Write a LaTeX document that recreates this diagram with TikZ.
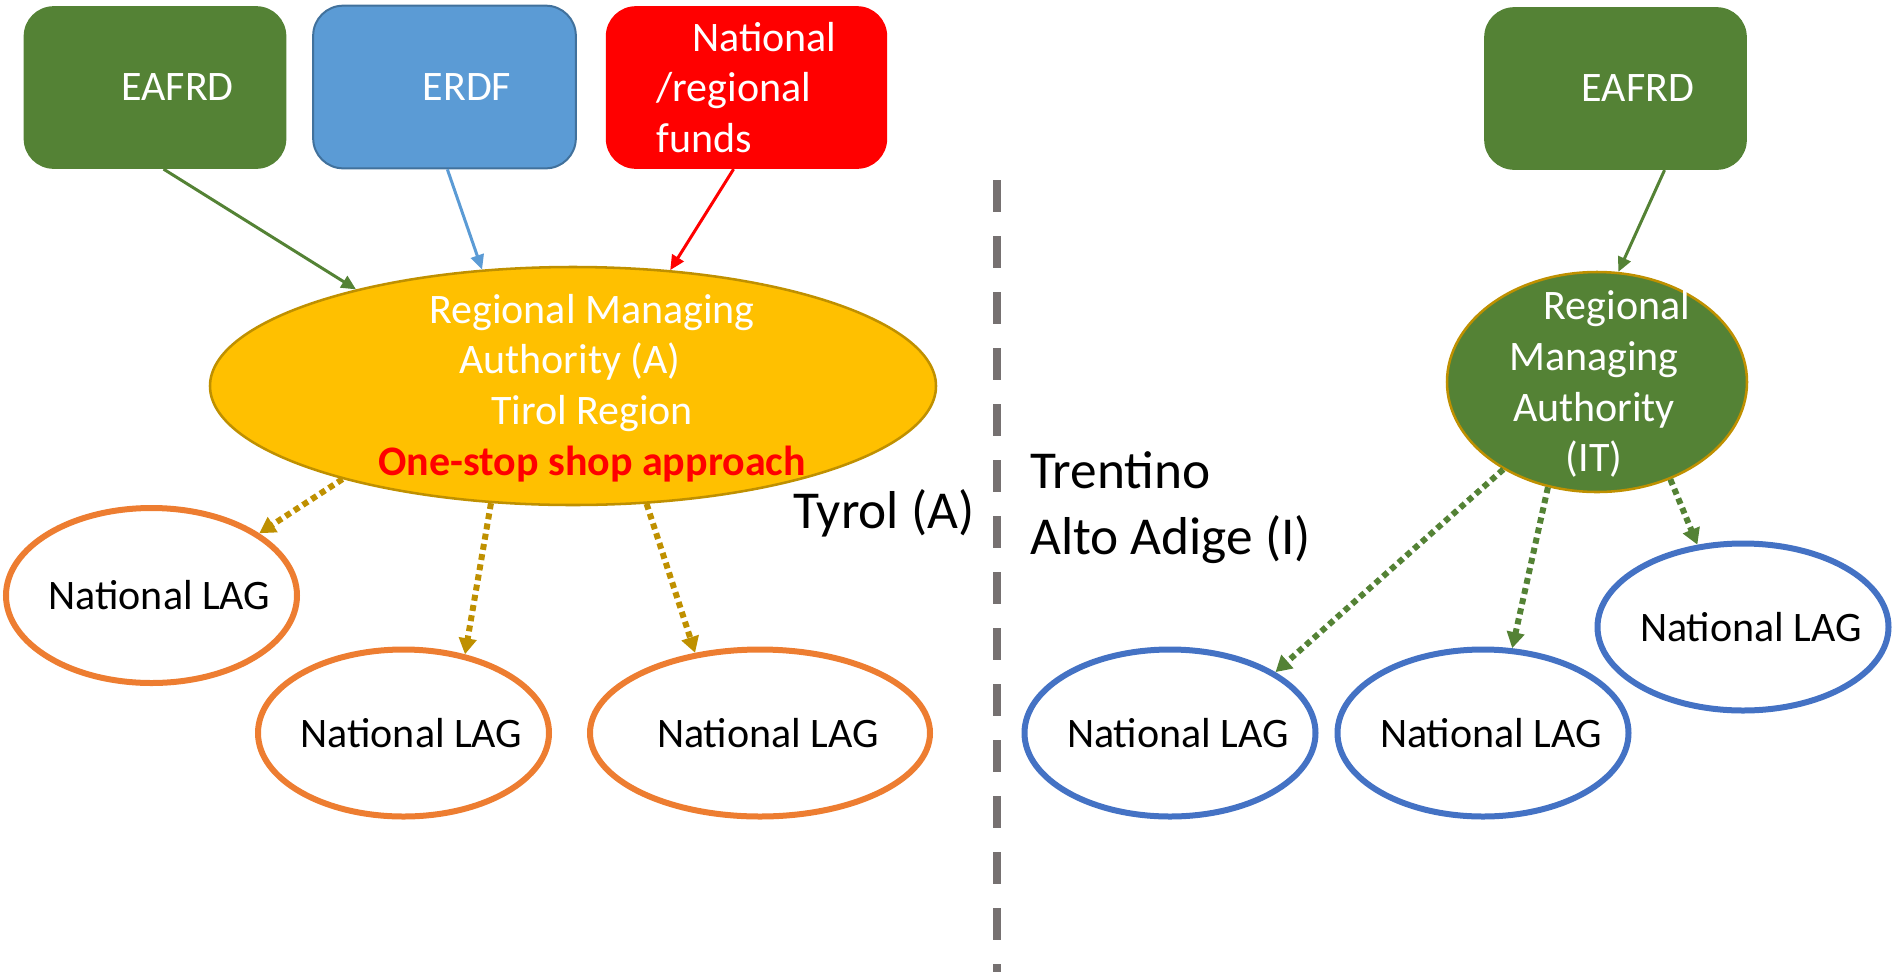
\documentclass[tikz,border=0pt]{standalone}
\usepackage{fontspec}
\setmainfont{Carlito}
\usepackage{xcolor}
\usetikzlibrary{shapes.geometric,arrows.meta}

\definecolor{ogreen}{RGB}{84,130,53}
\definecolor{oblue}{RGB}{91,155,213}
\definecolor{obluedark}{RGB}{65,113,156}
\definecolor{ogold}{RGB}{255,192,0}
\definecolor{ogolddark}{RGB}{191,144,0}
\definecolor{oorange}{RGB}{237,125,49}
\definecolor{olagblue}{RGB}{68,114,196}
\definecolor{ogray}{RGB}{118,113,113}

\begin{document}
\begin{tikzpicture}[x=0.75pt,y=0.75pt,yscale=-1,xscale=1,
  fund/.style={rectangle, rounded corners=22.5pt, minimum width=197pt, minimum height=122pt, text=white, font=\fontsize{31.5}{38}\selectfont},
  mgmt/.style={ellipse, draw=ogolddark, line width=1.9pt, inner sep=0pt},
  mgmttext/.style={text=white, align=center, inner sep=0pt, font=\fontsize{31.5}{38}\selectfont},
  lag/.style={ellipse, draw, line width=4.5pt, inner xsep=-14pt, inner ysep=0pt, minimum width=218.25pt, minimum height=125.25pt, font=\fontsize{31.5}{38}\selectfont},
  flow/.style={line width=2.25pt, -{Triangle[length=11pt,width=10pt]}},
  share/.style={line width=4.5pt, dash pattern=on 4.5pt off 3.25pt, -{Triangle[length=12pt,width=13pt]}},
  region/.style={anchor=west, align=left, inner sep=0pt, font=\fontsize{40}{49.5}\selectfont}
]
\useasboundingbox (0,0) rectangle (1893,972);

%funds
\node[fund, fill=ogreen] (eafrdA) at (155,87.5) {\hspace*{33.75pt}EAFRD};
\node[fund, fill=oblue, draw=obluedark, line width=1.5pt] (erdf) at (444.5,87) {\hspace*{33.75pt}ERDF};
\node[fund, fill=red, minimum width=211pt, align=left] (natfunds) at (746.5,87.5) {\hspace*{27pt}National\\/regional\\funds};
\node[fund, fill=ogreen] (eafrdB) at (1615.5,88.5) {\hspace*{33.75pt}EAFRD};

%managing authorities
\node[mgmt, fill=ogold, minimum width=544.5pt, minimum height=178.5pt] (rmaA) at (573,386) {};
\node[mgmttext] (rmaAtext) at (592,388) {Regional Managing\\Authority (A)\hspace*{33pt}\mbox{}\\Tirol Region\\\textcolor{red}{\bfseries One-stop shop approach}};
\node[mgmt, fill=ogreen, minimum width=225pt, minimum height=165pt] (rmaB) at (1597,382) {};
\node[mgmttext] (rmaBtext) at (1594,384) {\hspace*{34.5pt}Regional\\Managing\\Authority\\(IT)};

%LAGs
\node[lag, draw=oorange, minimum height=131.25pt] (lagA1) at (151.5,595.5) {\hspace*{12pt}National LAG};
\node[lag, draw=oorange] (lagA2) at (403.5,733) {\hspace*{12pt}National LAG};
\node[lag, draw=oorange, minimum width=255pt] (lagA3) at (760,733) {\hspace*{12pt}National LAG};
\node[lag, draw=olagblue] (lagB1) at (1170,733) {\hspace*{12pt}National LAG};
\node[lag, draw=olagblue] (lagB2) at (1483,733) {\hspace*{12pt}National LAG};
\node[lag, draw=olagblue] (lagB3) at (1743,627) {\hspace*{12pt}National LAG};

%regions
\node[region] (tyrol) at (793,513) {Tyrol (A)};
\node[region] (trentino) at (1030,508) {Trentino\\Alto Adige (I)};

%border
\coordinate (sepTop) at (997,180);
\coordinate (sepBot) at (997,972);
\draw[ogray, line width=6pt, dash pattern=on 24pt off 18pt] (sepTop) -- (sepBot);

%arrows
\draw[flow, ogreen] (eafrdA.276) -- (rmaA.156);
\draw[flow, oblue] (erdf.272) -- (rmaA.128);
\draw[flow, red] (natfunds.261) -- (rmaA.50);
\draw[flow, ogreen] (eafrdB.301) -- (rmaB.79);

\draw[share, ogolddark] (rmaA.202) -- (lagA1.30);
\draw[share, ogolddark] (rmaA.235) -- (lagA2.52);
\draw[share, ogolddark] (rmaA.302) -- (lagA3.129);
\draw[share, ogreen] (rmaB.223) -- (lagB1.30);
\draw[share, ogreen] (rmaB.245) -- (lagB2.71);
\draw[share, ogreen] (rmaB.307) -- (lagB3.119);

\end{tikzpicture}
\end{document}
